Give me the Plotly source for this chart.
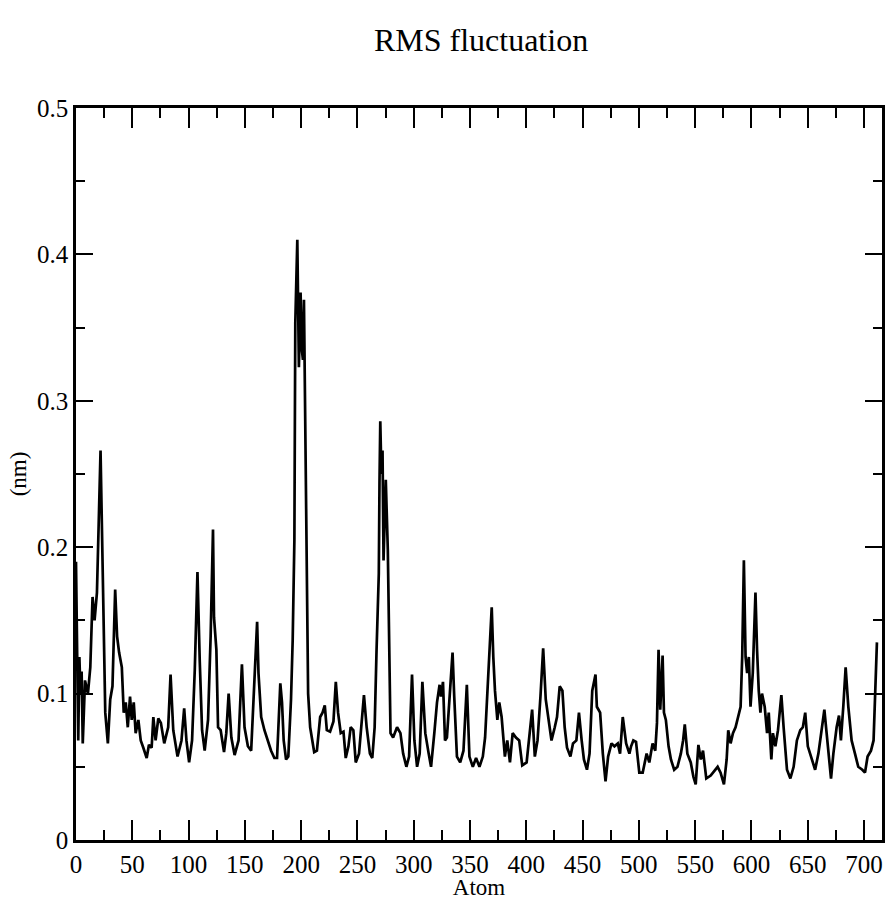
import plotly.graph_objects as go

# RMS fluctuation per atom (nm), read at the turning points of the trace
atom = [
    0, 1, 2, 3, 4, 5, 6, 8, 10.6, 12.7, 14.7, 16.5, 18.6, 21.8, 23.6, 26, 28.3, 30.4, 32.4,
    34.8, 36.5, 38.3, 40.7, 42.4, 44.2, 46, 48, 49.5, 51.3, 53, 55.4, 57.5, 59.8, 62.8,
    64.8, 67.2, 68.7, 70.7, 73.1, 75.4, 78.4, 81.9, 84, 86.4, 90.2, 93.7, 96.1, 98.1,
    100.5, 103.1, 105.5, 107.9, 109.9, 112, 114.3, 117.3, 119.6, 121.7, 122.6, 124.7,
    126.2, 128.5, 131.5, 133.5, 135.6, 138, 140.9, 144.4, 147.4, 149.7, 152.7, 155.6,
    158.5, 160.9, 162.1, 164.5, 167.4, 170.4, 173.3, 176.2, 178.6, 181.5, 183, 184.5,
    186.6, 188.6, 191, 192.5, 194, 194.8, 195.7, 196.6, 198, 199.5, 200.6, 201.6, 202.5,
    204, 205.4, 206.2, 208, 211.6, 214, 216.9, 219, 221, 222.8, 225.7, 228.7, 230.8,
    232.8, 235.2, 237.6, 239.6, 242, 244, 246.4, 248.5, 251.4, 253.5, 255.8, 258.2,
    261.1, 263.2, 265.3, 267, 269, 269.6, 270.3, 271.3, 272.3, 273.2, 275.2, 277,
    278.5, 279.4, 281.7, 285.2, 288.2, 290.6, 293.5, 295.9, 298.5, 300.6, 303, 305.3,
    307.7, 310.3, 313.3, 315.4, 318.3, 320.7, 323, 324.2, 326, 327.8, 329.5, 331.8,
    334.5, 336, 338.4, 341.3, 344.2, 347.2, 349.5, 352.5, 355.4, 358.4, 361.4, 363.4,
    365.4, 367.8, 369.3, 370.7, 372.2, 374.3, 376, 378.1, 381, 383.1, 385.5, 387.9,
    390.8, 393.7, 396.4, 400.3, 402.6, 405.2, 407.6, 410, 412.6, 415, 417.3, 419.7,
    422.4, 425.3, 427.3, 429.7, 432.1, 434.1, 436.2, 439.2, 441.5, 444.5, 446.8, 449.2,
    451.2, 453.9, 456.2, 458.6, 461.5, 462.7, 465.6, 468, 470.4, 472.7, 475.7, 478.3,
    481.3, 483.3, 485.7, 488.7, 491.6, 493.1, 495.1, 497.5, 500.4, 503.4, 506.9, 509.3,
    512.2, 514.6, 516.1, 517.5, 519, 521.1, 522.3, 524, 526.4, 528.5, 531.4, 534.3,
    537.3, 539.3, 540.8, 543.1, 546.1, 548.5, 550.5, 552.9, 555, 557, 559.9, 563.8,
    567.6, 570, 572.6, 575.6, 578, 579.4, 581.5, 583.6, 585.9, 588.2, 590.4, 591.8,
    593.3, 594.8, 596.2, 597.7, 599.2, 601.2, 602.4, 603.6, 605, 606.5, 608, 609.4,
    611.8, 613.9, 615.4, 617.7, 619.1, 621.3, 623.6, 626.6, 628.6, 631.6, 634.6, 637.5,
    640.4, 643.4, 645.7, 647.8, 650.1, 653.6, 656.6, 659.5, 662.4, 664.8, 666.8, 668.9,
    670.7, 672.8, 675.7, 677.8, 679.5, 681.6, 683.7, 686.1, 689, 692, 694.9, 698.5,
    700.9, 703.2, 706.2, 708.5, 710.3, 711.5,
]
rmsf = [
    0.190, 0.120, 0.068, 0.125, 0.100, 0.115, 0.066, 0.109, 0.100, 0.118, 0.166, 0.150,
    0.169, 0.266, 0.196, 0.087, 0.066, 0.096, 0.105, 0.171, 0.139, 0.128, 0.118, 0.087,
    0.094, 0.077, 0.098, 0.082, 0.094, 0.073, 0.082, 0.068, 0.063, 0.056, 0.065, 0.063,
    0.084, 0.068, 0.083, 0.080, 0.066, 0.077, 0.113, 0.075, 0.057, 0.068, 0.090, 0.068,
    0.053, 0.068, 0.116, 0.183, 0.123, 0.075, 0.061, 0.082, 0.139, 0.212, 0.152, 0.130,
    0.077, 0.075, 0.060, 0.073, 0.100, 0.070, 0.058, 0.068, 0.120, 0.077, 0.064, 0.061,
    0.109, 0.149, 0.114, 0.084, 0.075, 0.068, 0.061, 0.056, 0.056, 0.107, 0.094, 0.068,
    0.055, 0.057, 0.096, 0.137, 0.205, 0.353, 0.380, 0.410, 0.323, 0.374, 0.335, 0.328,
    0.369, 0.266, 0.130, 0.100, 0.077, 0.060, 0.061, 0.084, 0.087, 0.092, 0.075, 0.074,
    0.081, 0.108, 0.087, 0.073, 0.074, 0.056, 0.064, 0.077, 0.075, 0.053, 0.059, 0.077,
    0.099, 0.077, 0.059, 0.056, 0.077, 0.130, 0.182, 0.244, 0.286, 0.250, 0.266, 0.191,
    0.246, 0.198, 0.130, 0.073, 0.070, 0.077, 0.073, 0.059, 0.050, 0.057, 0.113, 0.068,
    0.050, 0.059, 0.108, 0.073, 0.059, 0.050, 0.073, 0.094, 0.106, 0.098, 0.108, 0.068,
    0.070, 0.096, 0.128, 0.098, 0.057, 0.053, 0.061, 0.106, 0.057, 0.050, 0.056, 0.050,
    0.057, 0.070, 0.102, 0.130, 0.159, 0.125, 0.102, 0.082, 0.094, 0.084, 0.057, 0.068,
    0.053, 0.073, 0.070, 0.068, 0.051, 0.053, 0.068, 0.089, 0.057, 0.068, 0.098, 0.131,
    0.096, 0.082, 0.068, 0.077, 0.084, 0.105, 0.102, 0.077, 0.063, 0.057, 0.066, 0.068,
    0.087, 0.068, 0.055, 0.048, 0.059, 0.102, 0.113, 0.091, 0.087, 0.059, 0.040, 0.057,
    0.066, 0.064, 0.066, 0.059, 0.084, 0.066, 0.059, 0.064, 0.068, 0.067, 0.046, 0.046,
    0.059, 0.053, 0.066, 0.061, 0.080, 0.130, 0.089, 0.126, 0.087, 0.082, 0.064, 0.055,
    0.048, 0.050, 0.059, 0.068, 0.079, 0.059, 0.053, 0.043, 0.038, 0.065, 0.055, 0.061,
    0.042, 0.044, 0.048, 0.050, 0.046, 0.038, 0.055, 0.075, 0.066, 0.073, 0.077, 0.085,
    0.091, 0.125, 0.191, 0.125, 0.114, 0.125, 0.091, 0.114, 0.148, 0.169, 0.130, 0.102,
    0.087, 0.100, 0.091, 0.073, 0.087, 0.055, 0.073, 0.064, 0.075, 0.099, 0.077, 0.048,
    0.042, 0.050, 0.068, 0.075, 0.077, 0.087, 0.064, 0.055, 0.048, 0.059, 0.077, 0.089,
    0.073, 0.055, 0.042, 0.059, 0.077, 0.085, 0.068, 0.091, 0.118, 0.091, 0.068, 0.059,
    0.050, 0.048, 0.046, 0.057, 0.061, 0.068, 0.109, 0.135,
]

x_ticks = list(range(0, 701, 50))
y_ticks = [0, 0.1, 0.2, 0.3, 0.4, 0.5]

SERIF = "Liberation Serif, Times New Roman, serif"

fig = go.Figure(
    go.Scatter(
        x=atom, y=rmsf, mode="lines",
        line=dict(color="black", width=2.7),
        hoverinfo="skip", showlegend=False,
    )
)

fig.update_layout(
    width=887, height=900,
    margin=dict(l=76, r=2, t=108, b=60),
    paper_bgcolor="white", plot_bgcolor="white",
    font=dict(family=SERIF, color="black", size=25),
    title=dict(
        text="RMS fluctuation",
        font=dict(family=SERIF, size=32, color="black"),
        x=0.5423, xanchor="center", y=0.956, yanchor="middle",
    ),
)

fig.update_xaxes(
    range=[0, 716], tickvals=x_ticks, ticktext=[str(v) for v in x_ticks],
    ticks="inside", ticklen=20, tickwidth=2, tickcolor="black",
    minor=dict(dtick=25, tick0=0, ticks="inside", ticklen=10, tickwidth=2, tickcolor="black"),
    showline=True, linecolor="black", linewidth=2.5, mirror="ticks",
    showgrid=False, zeroline=False,
    tickfont=dict(family=SERIF, size=25),
    title=dict(text="Atom", font=dict(family=SERIF, size=23), standoff=0),
)
fig.update_yaxes(
    range=[0, 0.5], tickvals=y_ticks, ticktext=["0", "0.1", "0.2", "0.3", "0.4", "0.5"],
    ticks="inside", ticklen=17, tickwidth=2, tickcolor="black",
    minor=dict(dtick=0.05, tick0=0, ticks="inside", ticklen=9, tickwidth=2, tickcolor="black"),
    showline=True, linecolor="black", linewidth=2.5, mirror="ticks",
    showgrid=False, zeroline=False,
    tickfont=dict(family=SERIF, size=25),
    title=dict(text="(nm)", font=dict(family=SERIF, size=23), standoff=4),
)

fig.write_html("out.html")
